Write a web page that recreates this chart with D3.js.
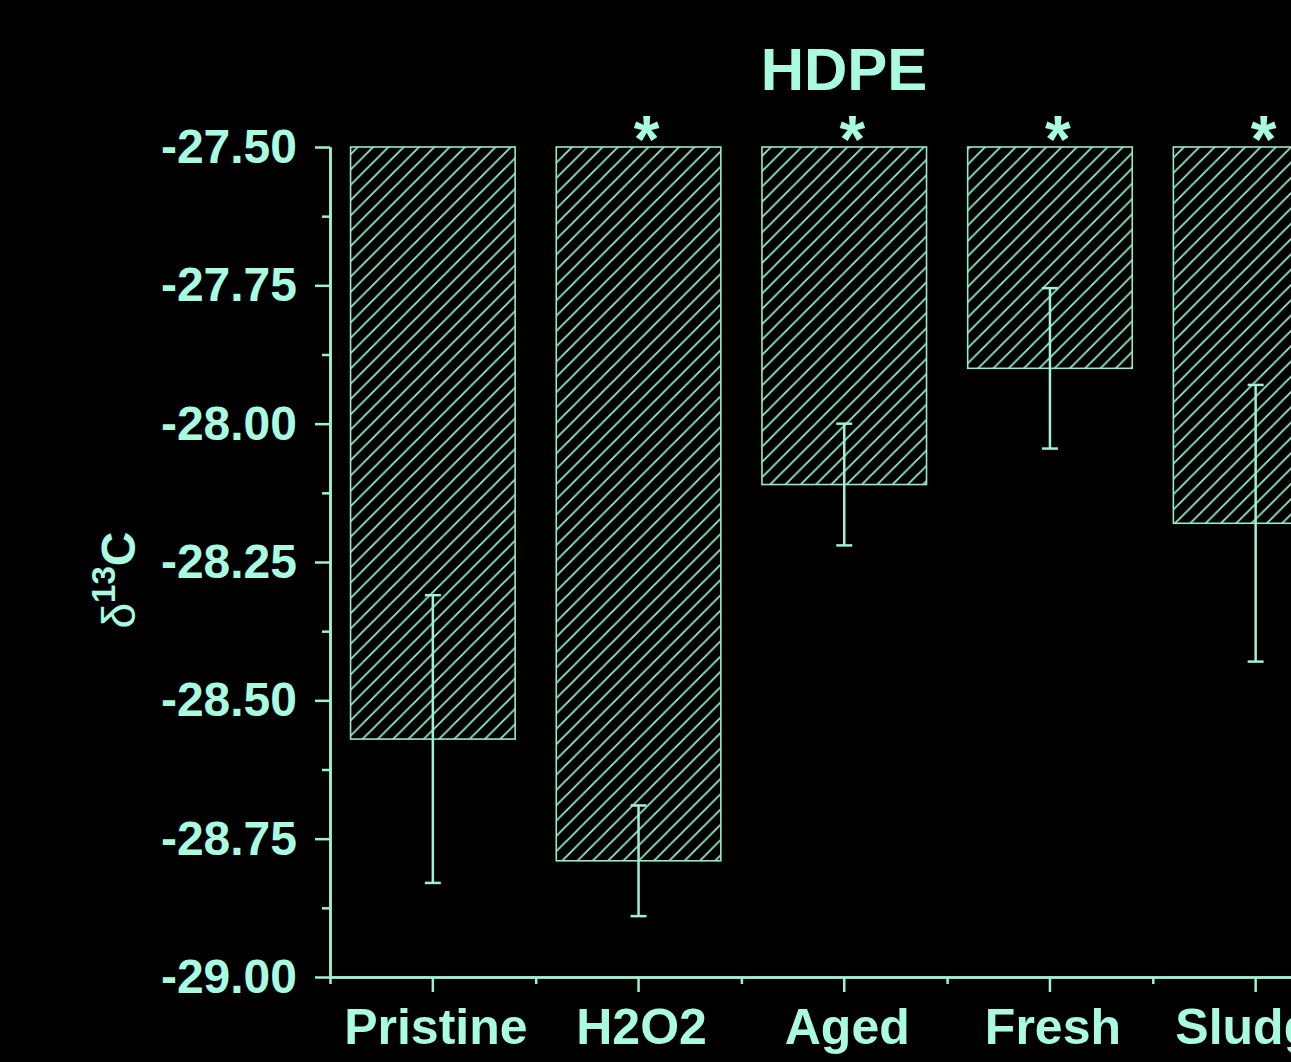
<!DOCTYPE html>
<html>
<head>
<meta charset="utf-8">
<script src="https://cdn.jsdelivr.net/npm/d3@7"></script>
<style>
  html, body { margin: 0; padding: 0; background: #000; overflow: hidden; }
  svg { display: block; }
</style>
</head>
<body>
<div id="chart"></div>
<script>
// chart data
const categories = ["Pristine", "H2O2", "Aged", "Fresh", "Sludge"];
const meanValues = [-28.57, -28.79, -28.11, -27.90, -28.18];
const errorValues = [0.26, 0.10, 0.11, 0.145, 0.25];
const significant = [false, true, true, true, true];
const majorTicks = [-27.5, -27.75, -28.0, -28.25, -28.5, -28.75, -29.0];
const minorTicks = [-27.625, -27.875, -28.125, -28.375, -28.625, -28.875];

const svgWidth = 1291, svgHeight = 1062;
const textColor = "#a8fbe0";
const lineColor = "#9ff0d5";
const hatchColor = "#95eacd";
const font = "'Liberation Sans', Arial, sans-serif";

const svg = d3.select("#chart")
    .append("svg")
    .attr("width", svgWidth)
    .attr("height", svgHeight)
    .style("background", "#000");

// hatch pattern for the bars
const pat = svg.append("defs").append("pattern")
    .attr("id", "hatch")
    .attr("patternUnits", "userSpaceOnUse")
    .attr("width", 15.3)
    .attr("height", 15.3);
pat.append("path")
    .attr("d", "M0,15.3 L15.3,0 M-3.8,3.8 L3.8,-3.8 M11.5,19.1 L19.1,11.5")
    .attr("stroke", hatchColor)
    .attr("stroke-width", 1.8);

const plotLeft = 330, plotTop = 147, plotBottom = 977;
const step = 205.7;

const y = d3.scaleLinear()
    .domain([-29, -27.5])
    .range([plotBottom, plotTop]);

const x = d3.scaleBand()
    .domain(categories)
    .range([plotLeft, plotLeft + step * categories.length])
    .paddingInner(0.2)
    .paddingOuter(0.1);

const xEdges = d3.scaleLinear()
    .domain([0, categories.length])
    .range([plotLeft, plotLeft + step * categories.length]);

const rows = categories.map((c, i) => ({
    name: c, value: meanValues[i], err: errorValues[i], star: significant[i]
}));

// bars hanging down from the top of the axis
svg.selectAll(".bar")
    .data(rows)
    .enter()
    .append("rect")
    .attr("class", "bar")
    .attr("x", d => x(d.name))
    .attr("y", y(-27.5))
    .attr("width", x.bandwidth())
    .attr("height", d => y(d.value) - y(-27.5))
    .attr("fill", "url(#hatch)")
    .attr("stroke", hatchColor)
    .attr("stroke-width", 1.6);

// error bars
const cx = d => x(d.name) + x.bandwidth() / 2;
const errG = svg.selectAll(".err").data(rows).enter().append("g").attr("class", "err")
    .attr("stroke", lineColor).attr("stroke-width", 2.5);
errG.append("line")
    .attr("x1", cx).attr("x2", cx)
    .attr("y1", d => y(d.value + d.err))
    .attr("y2", d => y(d.value - d.err));
[1, -1].forEach(s => {
    errG.append("line")
        .attr("x1", d => cx(d) - 8).attr("x2", d => cx(d) + 8)
        .attr("y1", d => y(d.value + s * d.err))
        .attr("y2", d => y(d.value + s * d.err));
});

// significance stars
svg.selectAll(".star")
    .data(rows.filter(d => d.star))
    .enter()
    .append("text")
    .attr("class", "star")
    .attr("x", d => cx(d) + 8)
    .attr("y", 162)
    .attr("text-anchor", "middle")
    .style("font-family", font)
    .style("font-weight", "bold")
    .style("font-size", "66px")
    .attr("fill", textColor)
    .text("*");

// y axis
const yAxis = svg.append("g")
    .attr("transform", `translate(${plotLeft},0)`)
    .call(d3.axisLeft(y).tickValues(majorTicks).tickSize(15).tickSizeOuter(0)
        .tickPadding(18).tickFormat(d => d.toFixed(2)));
svg.append("g")
    .attr("transform", `translate(${plotLeft},0)`)
    .call(d3.axisLeft(y).tickValues(minorTicks).tickSize(8).tickSizeOuter(0).tickFormat(""));

// x axis
const xAxis = svg.append("g")
    .attr("transform", `translate(0,${plotBottom})`)
    .call(d3.axisBottom(x).tickSize(15).tickSizeOuter(0).tickPadding(16));
svg.append("g")
    .attr("transform", `translate(0,${plotBottom})`)
    .call(d3.axisBottom(xEdges).tickValues([0, 1, 2, 3, 4, 5]).tickSize(7).tickSizeOuter(0).tickFormat(""));

svg.selectAll(".domain, .tick line")
    .attr("stroke", lineColor)
    .attr("stroke-width", 2.5);

yAxis.selectAll("text")
    .attr("fill", textColor)
    .style("font-family", font)
    .style("font-weight", "bold")
    .style("font-size", "48px")
    .attr("dy", "0.32em");

xAxis.selectAll("text")
    .attr("fill", textColor)
    .attr("dx", 3)
    .style("font-family", font)
    .style("font-weight", "bold")
    .style("font-size", "50px")
    .attr("dy", "0.72em");

// title
svg.append("text")
    .attr("x", 844)
    .attr("y", 90)
    .attr("text-anchor", "middle")
    .style("font-family", font)
    .style("font-weight", "bold")
    .style("font-size", "60px")
    .attr("fill", textColor)
    .text("HDPE");

// y axis label: delta 13 C
const yLabel = svg.append("text")
    .attr("transform", "translate(135,580) rotate(-90)")
    .attr("text-anchor", "middle")
    .style("font-family", font)
    .attr("fill", textColor);
yLabel.append("tspan").style("font-size", "46px").text("δ");
yLabel.append("tspan").style("font-size", "33px").style("font-weight", "bold").attr("dy", -20).text("13");
yLabel.append("tspan").style("font-size", "48px").style("font-weight", "bold").attr("dy", 20).text("C");
</script>
</body>
</html>
